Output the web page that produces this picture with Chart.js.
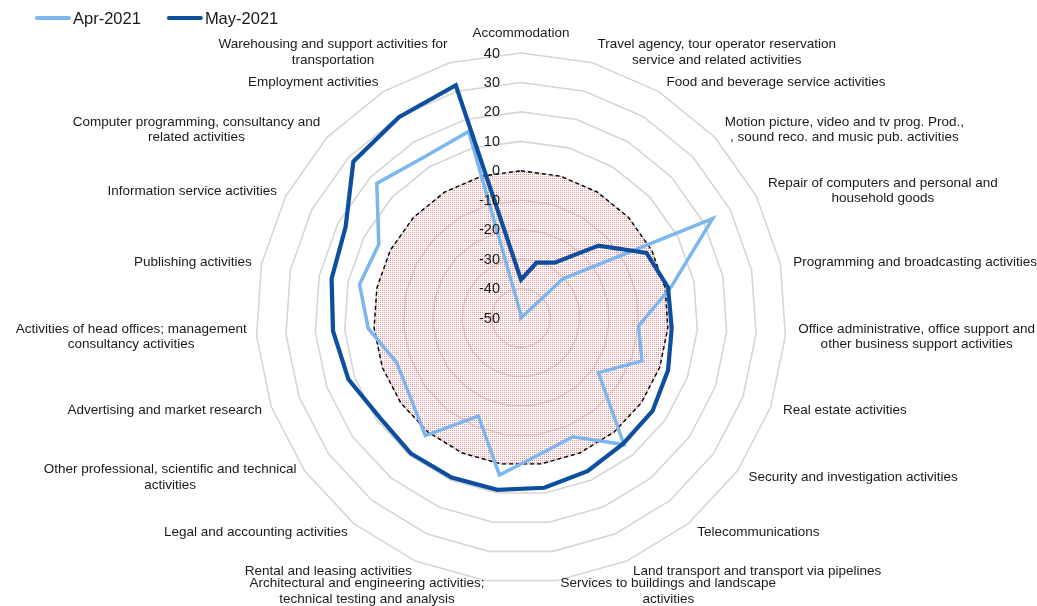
<!DOCTYPE html>
<html>
<head>
<meta charset="utf-8">
<script src="https://cdn.jsdelivr.net/npm/chart.js@4.4.1/dist/chart.umd.min.js"></script>
<style>
  html, body { margin: 0; padding: 0; background: #ffffff; }
  #wrap { width: 1037px; height: 606px; position: relative; }
</style>
</head>
<body>
<div id="wrap"><canvas id="c" width="1037" height="606"></canvas></div>
<script>
// Activity categories, clockwise from the top (each entry is one label, split into lines)
const categories = [
  ['Accommodation'],
  ['Travel agency, tour operator reservation', 'service and related activities'],
  ['Food and beverage service activities'],
  ['Motion picture, video and tv prog. Prod.,', ', sound reco. and music pub. activities'],
  ['Repair of computers and personal and', 'household goods'],
  ['Programming and broadcasting activities'],
  ['Office administrative, office support and', 'other business support activities'],
  ['Real estate activities'],
  ['Security and investigation activities'],
  ['Telecommunications'],
  ['Land transport and transport via pipelines'],
  ['Services to buildings and landscape', 'activities'],
  ['Architectural and engineering activities;', 'technical testing and analysis'],
  ['Rental and leasing activities'],
  ['Legal and accounting activities'],
  ['Other professional, scientific and technical', 'activities'],
  ['Advertising and market research'],
  ['Activities of head offices; management', 'consultancy activities'],
  ['Publishing activities'],
  ['Information service activities'],
  ['Computer programming, consultancy and', 'related activities'],
  ['Employment activities'],
  ['Warehousing and support activities for', 'transportation']
];

const apr2021 = [-49, -50, -50, -30.5, 23.3, 2.1, -10, -6.4, -17.8, 5.4, -6, -3.3,
                 3.8, -13.7, 1.5, -3.9, -5.1, 2, 6, 4.4, 17, 13.8, 15.8];
const may2021 = [-37, -30.5, -28, -14, -2, 1, 1.3, 3, 4.7, 5, 6.7, 8.2,
                 8.9, 9.1, 9.3, 8.7, 12.2, 14, 15.7, 17.1, 27.9, 29.8, 32.1];
// Zero reference ring (shaded area below zero)
const zeroRef = [0, 0, 0, 0, 0, 0, 0, 0, 0, 0, 0, 0, 0, 0, 0, 0, 0, 0, 0, 0, 0, 0, 0];

const tickValues = [-50, -40, -30, -20, -10, 0, 10, 20, 30, 40];

const seriesNames = ['Apr-2021', 'May-2021'];
const FONT = '"Liberation Sans", Arial, sans-serif';

const canvas = document.getElementById('c');
const mainCtx = canvas.getContext('2d');

// fine red dot fill for the negative zone
function dotPattern(ctx) {
  const tile = document.createElement('canvas');
  tile.width = 2; tile.height = 2;
  const g = tile.getContext('2d');
  g.fillStyle = 'rgb(243,140,140)';
  g.fillRect(0, 0, 1, 1);
  return ctx.createPattern(tile, 'repeat');
}

// axis value labels, right-aligned just left of the centre line
const tickLabelPlugin = {
  id: 'tickLabels',
  afterDatasetsDraw(chart) {
    const s = chart.scales.r;
    const ctx = chart.ctx;
    ctx.save();
    ctx.font = '14.5px ' + FONT;
    ctx.fillStyle = '#1a1a1a';
    ctx.textAlign = 'right';
    ctx.textBaseline = 'middle';
    tickValues.forEach(v => {
      const d = s.getDistanceFromCenterForValue(v);
      ctx.fillText(String(v), s.xCenter - 21, s.yCenter - d + 0.5);
    });
    ctx.restore();
  }
};

// category labels placed just outside the outer ring
const categoryLabelPlugin = {
  id: 'categoryLabels',
  afterDraw(chart) {
    const s = chart.scales.r;
    const ctx = chart.ctx;
    const lineH = 15.5;
    ctx.save();
    ctx.font = '13.5px ' + FONT;
    ctx.fillStyle = '#1a1a1a';
    ctx.textAlign = 'center';
    ctx.textBaseline = 'middle';
    categories.forEach((lines, i) => {
      const a = s.getIndexAngle(i);
      const p = s.getPointPosition(i, s.drawingArea + 11);
      const sn = Math.sin(a), cs = Math.cos(a);
      const w = Math.max(...lines.map(t => ctx.measureText(t).width));
      const h = lines.length * lineH;
      let cx;
      let yc = p.y;
      if (Math.abs(sn) < 0.05) {
        cx = p.x;
        yc -= cs * (h / 2 + 1);
      } else if (sn > 0) {
        cx = p.x + 2 + w / 2;
      } else {
        cx = p.x + 1 - w / 2;
      }
      lines.forEach((t, k) => {
        ctx.fillText(t, cx, yc - h / 2 + lineH * (k + 0.5));
      });
    });
    ctx.restore();
  }
};

// legend row at the top left
const legendPlugin = {
  id: 'lineLegend',
  afterDraw(chart) {
    const ctx = chart.ctx;
    ctx.save();
    ctx.font = '16.5px ' + FONT;
    ctx.textBaseline = 'middle';
    ctx.textAlign = 'left';
    let x = 36;
    const y = 18;
    chart.data.datasets.forEach(ds => {
      if (!ds.label) return;
      ctx.strokeStyle = ds.borderColor;
      ctx.lineWidth = 4;
      ctx.lineCap = 'round';
      ctx.beginPath();
      ctx.moveTo(x + 1, y);
      ctx.lineTo(x + 33, y);
      ctx.stroke();
      ctx.fillStyle = '#1a1a1a';
      ctx.fillText(ds.label, x + 37, y + 1);
      x += 37 + ctx.measureText(ds.label).width + 27;
    });
    ctx.restore();
  }
};

new Chart(mainCtx, {
  type: 'radar',
  data: {
    labels: categories.map(l => l.join(' ')),
    datasets: [
      {
        label: seriesNames[0],
        data: apr2021,
        borderColor: '#7db6ef',
        borderWidth: 3.5,
        fill: false,
        order: 2
      },
      {
        label: seriesNames[1],
        data: may2021,
        borderColor: '#0d4e9f',
        borderWidth: 4.2,
        fill: false,
        order: 1
      },
      {
        label: '',
        data: zeroRef,
        borderColor: '#000000',
        borderWidth: 1.4,
        borderDash: [4, 3],
        backgroundColor: dotPattern(mainCtx),
        fill: 'start',
        order: 3
      }
    ]
  },
  options: {
    responsive: false,
    animation: false,
    devicePixelRatio: 1,
    layout: { padding: { top: 53, bottom: 23, left: 5, right: 0 } },
    elements: {
      line: { tension: 0, borderJoinStyle: 'miter' },
      point: { radius: 0, hoverRadius: 0 }
    },
    plugins: {
      legend: { display: false },
      tooltip: { enabled: false }
    },
    scales: {
      r: {
        min: -50,
        max: 40,
        afterBuildTicks: (s) => { s.ticks = tickValues.map(v => ({ value: v })); },
        ticks: { display: false, stepSize: 10 },
        grid: { color: '#d6d6d6', lineWidth: 1.6, circular: false },
        angleLines: { display: false },
        pointLabels: { display: false }
      }
    }
  },
  plugins: [tickLabelPlugin, categoryLabelPlugin, legendPlugin]
});
</script>
</body>
</html>
